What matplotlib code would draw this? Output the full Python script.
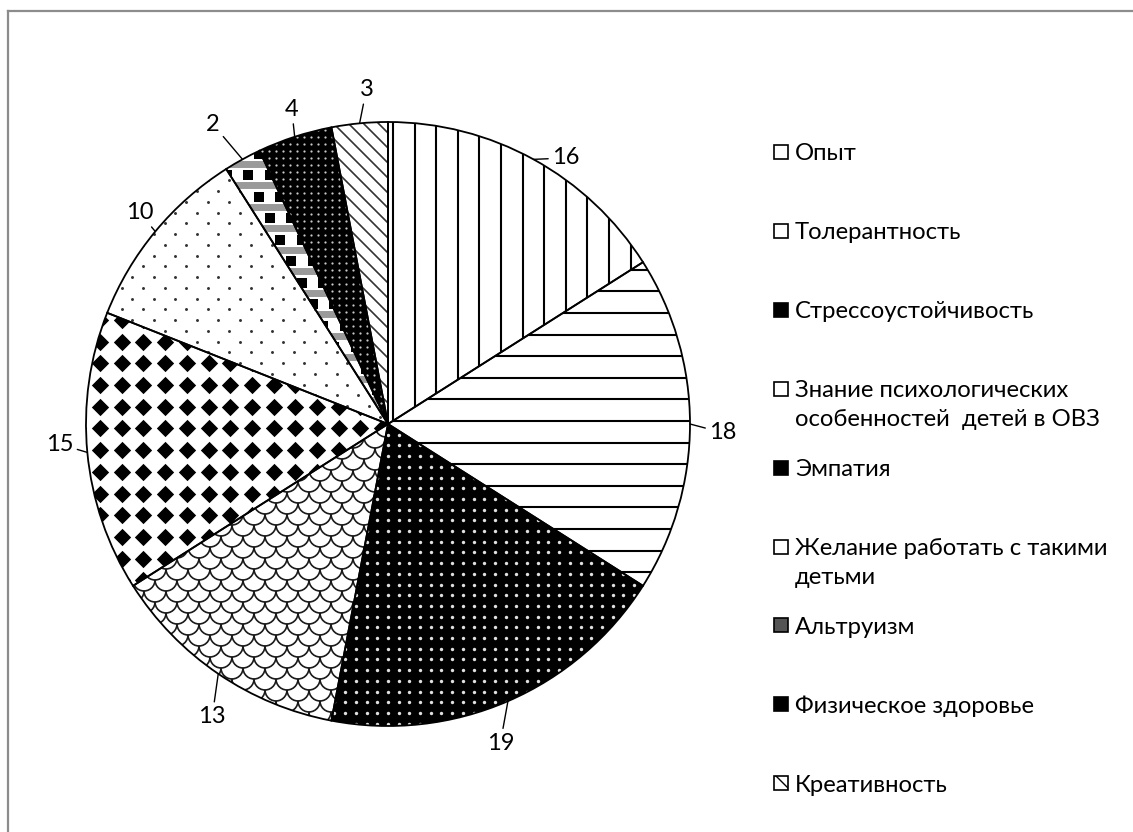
import numpy as np
import matplotlib
matplotlib.use('Agg')
import matplotlib.pyplot as plt
from matplotlib.collections import LineCollection
from matplotlib.patches import Rectangle
from matplotlib.lines import Line2D

# ---------------- data ----------------
categories = ['Опыт', 'Толерантность', 'Стрессоустойчивость',
              'Знание психологических\nособенностей  детей в ОВЗ', 'Эмпатия',
              'Желание работать с такими\nдетьми', 'Альтруизм',
              'Физическое здоровье', 'Креативность']
values = [16, 18, 19, 13, 15, 10, 2, 4, 3]
value_labels = [str(v) for v in values]

# label placement (style): radial distance factor and angular offset (deg)
label_dist = [1.06, 1.11, 1.12, 1.13, 1.09, 1.08, 1.15, 1.09, 1.11]
label_dang = [-5.0, -1.5, -4.0, 3.2, -1.9, -0.8, 1.5, -1.0, -1.7]

plt.rcParams['font.family'] = ['Lato', 'DejaVu Sans']

W, H = 1133, 832
fig = plt.figure(figsize=(W / 100, H / 100), dpi=100)
ax = fig.add_axes([0, 0, 1, 1])

CX, CY, R = 388, H - 424, 302

wedges, _ = ax.pie(values, startangle=90, counterclock=False,
                   center=(CX, CY), radius=R,
                   wedgeprops=dict(facecolor='white', edgecolor='none', linewidth=0))
ax.set_xlim(0, W)
ax.set_ylim(0, H)
ax.set_aspect('equal')
ax.axis('off')

x0, x1 = CX - R - 30, CX + R + 30
y0, y1 = CY - R - 30, CY + R + 30


def img_y(y):
    return H - y


def vlines(w, start, step, lw=1.5, color='black'):
    xs = np.arange(start - step * 40, x1, step)
    xs = xs[xs > x0]
    segs = [[(x, y0), (x, y1)] for x in xs]
    lc = LineCollection(segs, colors=color, linewidths=lw, zorder=2)
    ax.add_collection(lc)
    lc.set_clip_path(w)


def hlines(w, start, step, lw=1.5, color='black'):
    ys = np.arange(start - step * 40, y1, step)
    ys = ys[ys > y0]
    segs = [[(x0, y), (x1, y)] for y in ys]
    lc = LineCollection(segs, colors=color, linewidths=lw, zorder=2)
    ax.add_collection(lc)
    lc.set_clip_path(w)


def dots(w, startx, starty, sx, sy, size, color, marker='o', stagger=False):
    xs = np.arange(startx - sx * 60, x1, sx)
    ys = np.arange(starty - sy * 60, y1, sy)
    xs = xs[xs > x0 - sx]
    ys = ys[ys > y0 - sy]
    px, py = [], []
    for j, y in enumerate(ys):
        off = (sx / 2.0) if (stagger and j % 2) else 0.0
        px.extend(xs + off)
        py.extend([y] * len(xs))
    sc = ax.scatter(px, py, s=size, c=color, marker=marker, linewidths=0, zorder=2)
    sc.set_clip_path(w)


# 0 Опыт: vertical lines
vlines(wedges[0], 393, 21.6)
# 1 Толерантность: horizontal lines
hlines(wedges[1], img_y(421), 21.6)
# 2 Стрессоустойчивость: black with white dots
wedges[2].set_facecolor('black')
dots(wedges[2], CX, CY, 10.7, 10.7, 6, '#e0e0e0')
# 3 Знание: fish-scale arcs
r = 11.0
th = np.linspace(np.pi, 2 * np.pi, 14)
segs = []
ys = np.arange(y0, y1, r)
for j, yy in enumerate(ys):
    off = r if j % 2 else 0.0
    for xx in np.arange(x0 + off, x1, 2 * r):
        segs.append(np.column_stack([xx + r * np.cos(th), yy + r * np.sin(th)]))
lc = LineCollection(segs, colors='#1a1a1a', linewidths=1.2, zorder=2)
ax.add_collection(lc)
lc.set_clip_path(wedges[3])
# 4 Эмпатия: black rounded diamonds grid
dots(wedges[4], 100, img_y(341.7), 21.7, 21.7, 78, 'black', marker='D')
dots(wedges[4], 100, img_y(341.7), 21.7, 21.7, 62, 'black', marker='o')
# 5 Желание: small dark dots, staggered
dots(wedges[5], 100, img_y(341.7), 21.5, 10.75, 4.5, '#333333', stagger=True)
# 6 Альтруизм: gray bands + black squares
hlines(wedges[6], img_y(185), 21.5, lw=5, color='#9a9a9a')
dots(wedges[6], 205, img_y(175), 21.5, 21.5, 45, 'black', marker='s', stagger=True)
# 7 Физическое здоровье: black with fine white dots
wedges[7].set_facecolor('black')
dots(wedges[7], CX, CY, 7.0, 7.0, 2.6, '#c8c8c8')
# 8 Креативность: diagonal lines (down-right)
segs = []
for c in np.arange(x0 + y0 - 2000, x1 + y1 + 2000, 15.0):
    segs.append([(x0 - 700, c - (x0 - 700)), (x1 + 700, c - (x1 + 700))])
lc = LineCollection(segs, colors='#333333', linewidths=1.2, zorder=2)
ax.add_collection(lc)
lc.set_clip_path(wedges[8])

# outlines on top
ax.pie(values, startangle=90, counterclock=False, center=(CX, CY), radius=R,
       wedgeprops=dict(fill=False, edgecolor='black', linewidth=1.3, zorder=5))
ax.set_xlim(0, W)
ax.set_ylim(0, H)
ax.axis('off')

# value labels with leader lines
total = float(sum(values))
ang = 90.0
for i, v in enumerate(values):
    span = 360.0 * v / total
    mid = ang - span / 2.0
    ang -= span
    er = np.deg2rad(mid)
    ex, ey = CX + R * np.cos(er), CY + R * np.sin(er)
    lr = np.deg2rad(mid + label_dang[i])
    tx = CX + label_dist[i] * R * np.cos(lr)
    ty = CY + label_dist[i] * R * np.sin(lr)
    ax.annotate(value_labels[i], xy=(ex, ey), xytext=(tx, ty),
                ha='center', va='center', fontsize=17, color='black',
                arrowprops=dict(arrowstyle='-', color='black', lw=1.0,
                                shrinkA=1, shrinkB=0), zorder=6)

# legend (manual)
leg_face = ['white', 'white', 'black', 'white', 'black', 'white', '#555555', 'black', 'white']
leg_hatch = ['', '', '', '', '', '', '', '', '\\\\']
slot0, step = 152, 78.9
for i, lab in enumerate(categories):
    yc = img_y(slot0 + i * step)
    ax.add_patch(Rectangle((774, yc - 7), 14, 14, facecolor=leg_face[i],
                           edgecolor='black', linewidth=1.2, hatch=leg_hatch[i]))
    lines = lab.split('\n')
    ax.text(795, yc, lines[0], ha='left', va='center_baseline', fontsize=17.2, color='black')
    if len(lines) > 1:
        ax.text(795, yc - 29, lines[1], ha='left', va='center_baseline',
                fontsize=17.2, color='black')

# chart frame (top and left edges visible)
fig.add_artist(Line2D([8 / W, 8 / W], [0, 1 - 11 / H], transform=fig.transFigure,
                      color='#8c8c8c', linewidth=1.6))
fig.add_artist(Line2D([8 / W, 1], [1 - 11 / H, 1 - 11 / H], transform=fig.transFigure,
                      color='#8c8c8c', linewidth=1.6))

fig.savefig('out.png', dpi=100, facecolor='white')
